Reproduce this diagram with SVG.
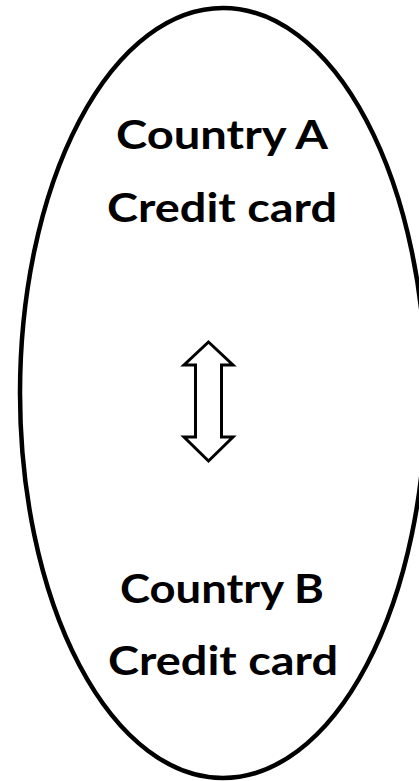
<svg xmlns="http://www.w3.org/2000/svg" width="419" height="781" viewBox="0 0 419 781">
<style>
.lbl{font-family:"Lato","Open Sans","Liberation Sans",sans-serif;font-weight:bold;font-size:40px;fill:#000;text-anchor:middle}
.shape{fill:#fff;stroke:#000}
</style>
<rect width="419" height="781" fill="#fff"/>
<g id="oval">
<ellipse class="shape" cx="223" cy="393" rx="203" ry="385" stroke-width="4.5"/>
</g>
<g id="countryA">
<text class="lbl" x="222" y="149" textLength="212" lengthAdjust="spacingAndGlyphs">Country A</text>
<text class="lbl" x="222" y="222" textLength="230" lengthAdjust="spacingAndGlyphs">Credit card</text>
</g>
<g id="connectors">
<polygon class="shape" stroke-width="3" stroke-linejoin="miter" points="208.5,342 233,365 221.5,365 221.5,437 233,437 208.5,461 184,437 195.5,437 195.5,365 184,365"/>
</g>
<g id="countryB">
<text class="lbl" x="222" y="603" textLength="204" lengthAdjust="spacingAndGlyphs">Country B</text>
<text class="lbl" x="223" y="675" textLength="230" lengthAdjust="spacingAndGlyphs">Credit card</text>
</g>
</svg>
